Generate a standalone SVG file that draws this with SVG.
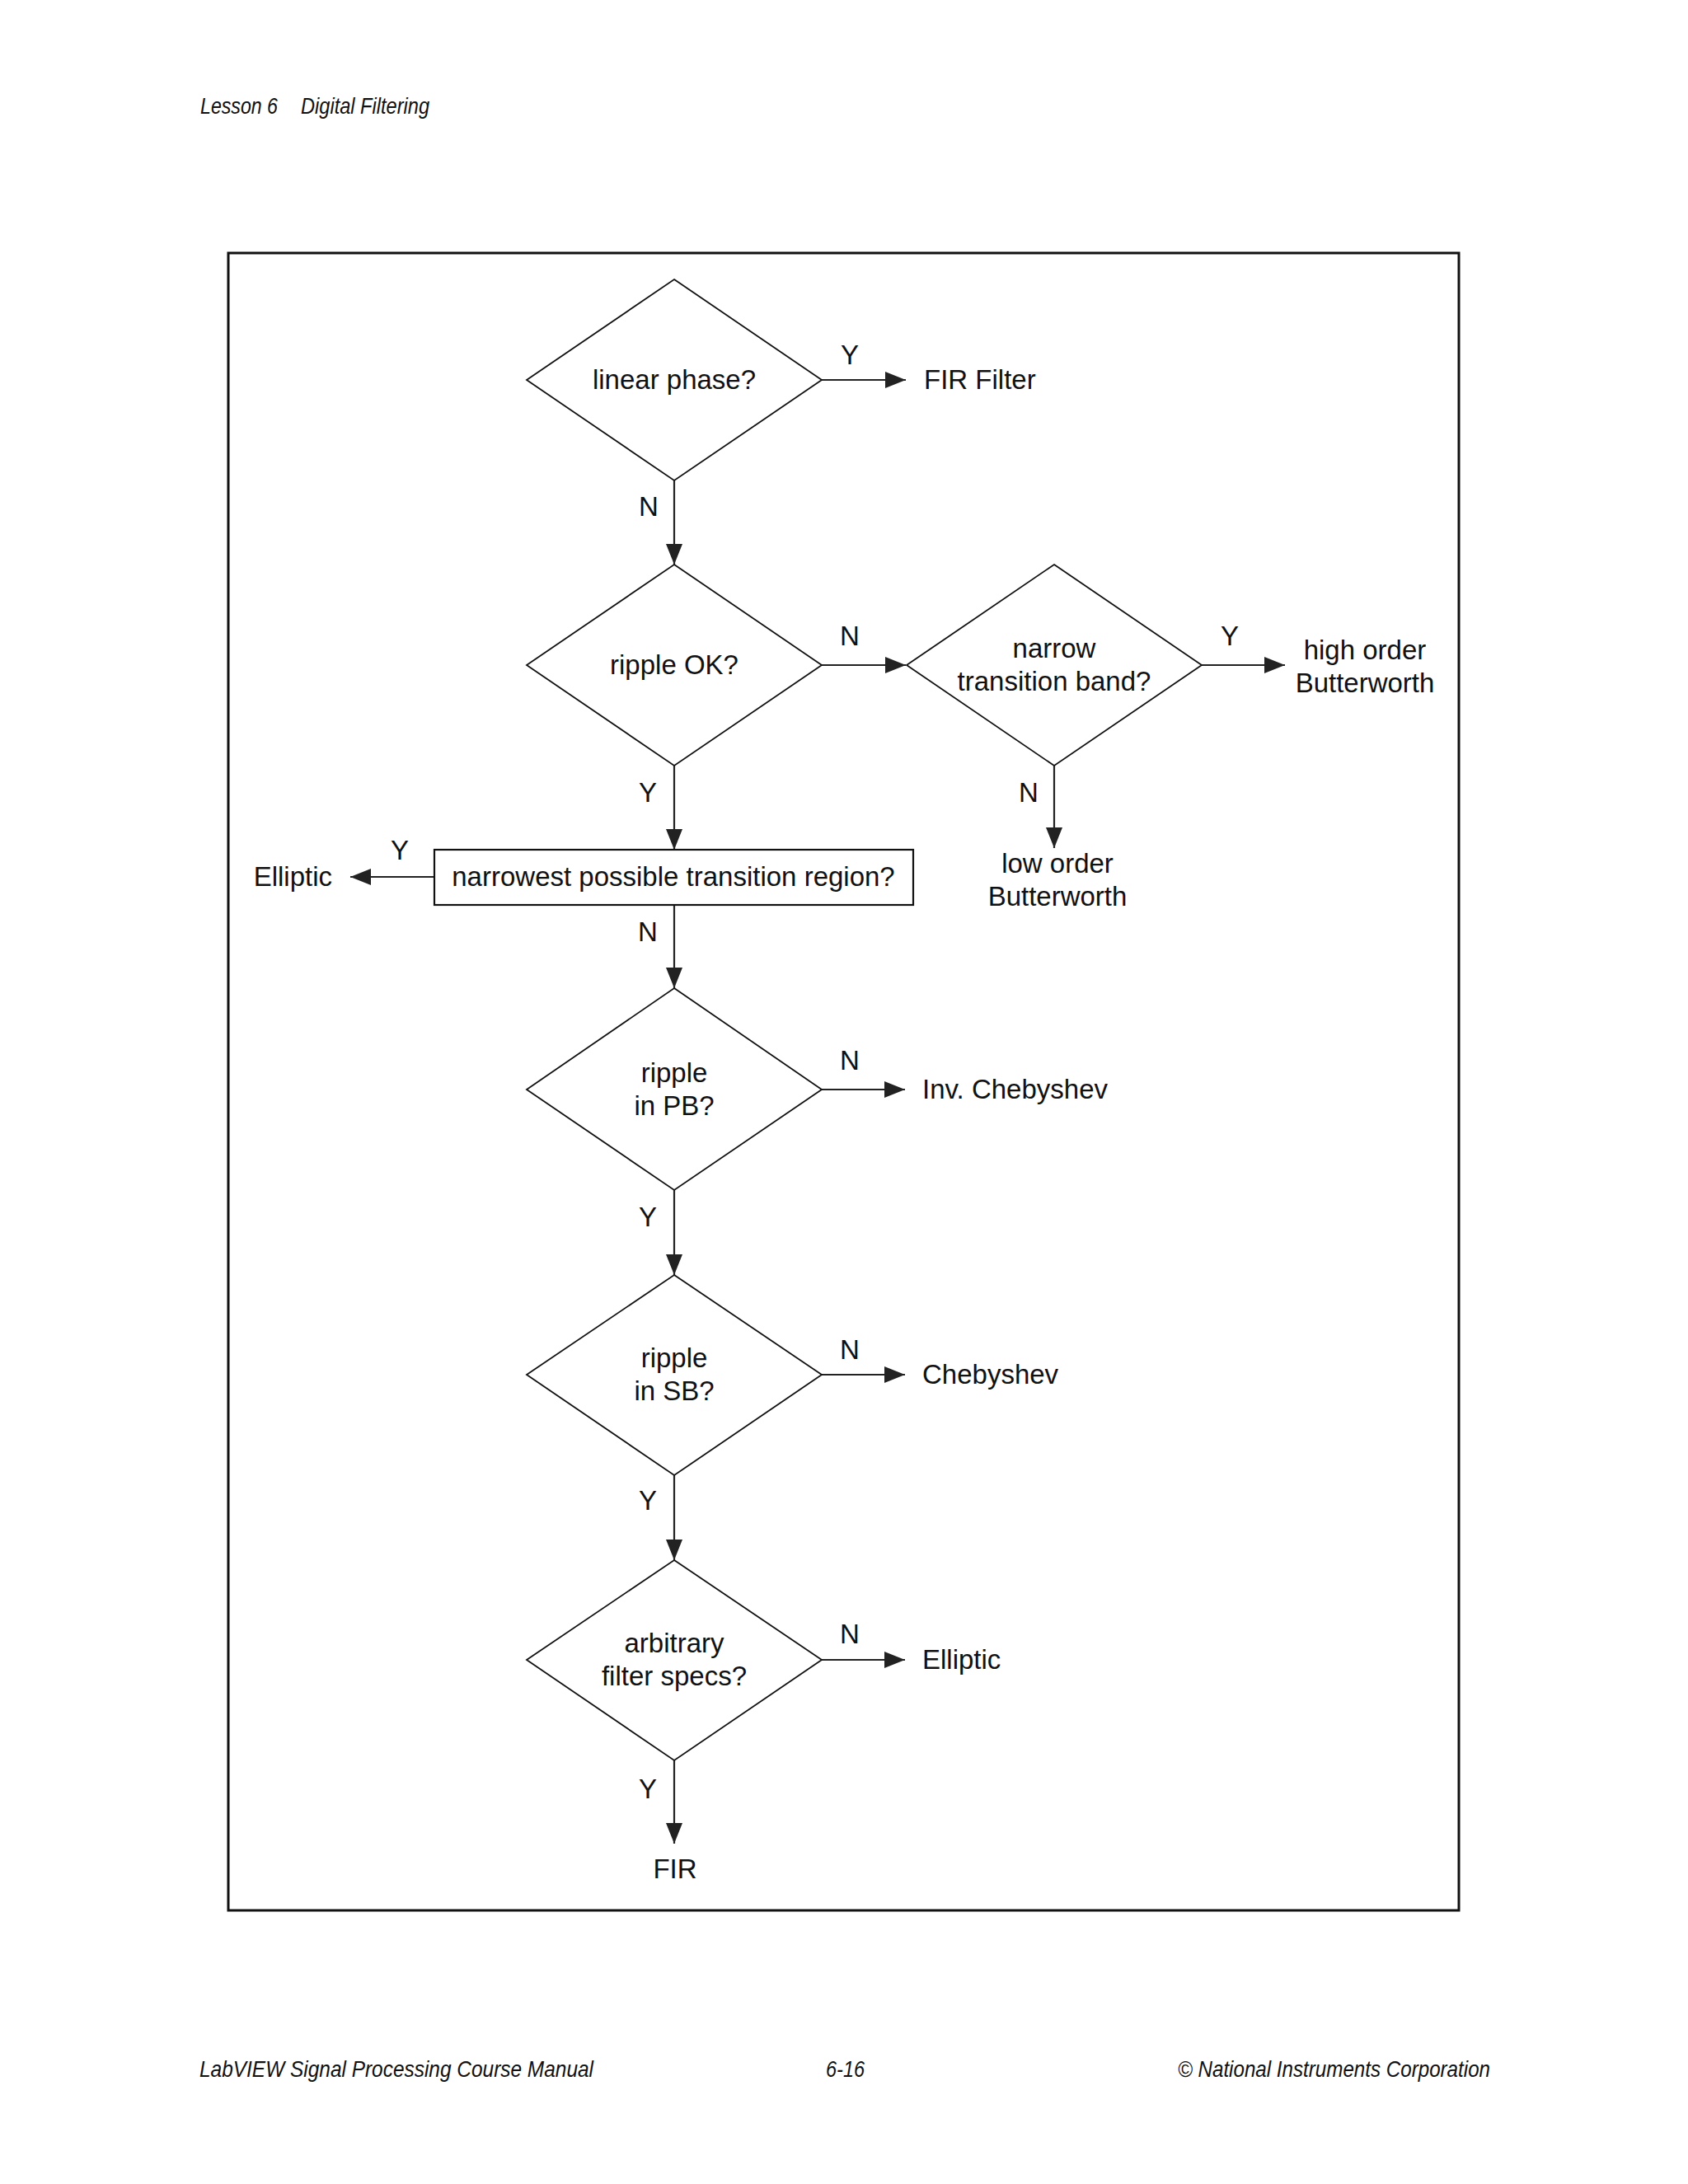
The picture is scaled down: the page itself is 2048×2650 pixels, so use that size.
<svg xmlns="http://www.w3.org/2000/svg" width="2048" height="2650" viewBox="0 0 2048 2650">
<style>
.t{font-family:"Liberation Sans",Arial,sans-serif;font-size:33px;fill:#111}
.c{text-anchor:middle}
.e{text-anchor:end}
.hdr{font-family:"Liberation Sans",Arial,sans-serif;font-size:28px;font-style:italic;fill:#111}
.shape{fill:#fff;stroke:#111;stroke-width:1.8}
.box{fill:#fff;stroke:#111;stroke-width:2.2}
.conn line{stroke:#222;stroke-width:2.2}
.frame{fill:none;stroke:#111;stroke-width:3}
</style>
<defs>
<marker id="ah" markerUnits="userSpaceOnUse" markerWidth="26" markerHeight="20" refX="25" refY="10" orient="auto">
<path d="M0,0 L25,10 L0,20 Z" fill="#222"/>
</marker>
</defs>
<rect width="2048" height="2650" fill="#fff"/>
<g id="header">
<text class="hdr" x="243" y="138" textLength="94" lengthAdjust="spacingAndGlyphs">Lesson 6</text>
<text class="hdr" x="365" y="138" textLength="156" lengthAdjust="spacingAndGlyphs">Digital Filtering</text>
</g>
<rect class="frame" x="277" y="307" width="1493" height="2011"/>
<g id="connectors" class="conn">
<line x1="997" y1="461" x2="1099" y2="461" marker-end="url(#ah)"/>
<line x1="818" y1="583" x2="818" y2="685" marker-end="url(#ah)"/>
<line x1="997" y1="807" x2="1099" y2="807" marker-end="url(#ah)"/>
<line x1="1458" y1="807" x2="1559" y2="807" marker-end="url(#ah)"/>
<line x1="1279" y1="929" x2="1279" y2="1029" marker-end="url(#ah)"/>
<line x1="818" y1="929" x2="818" y2="1031" marker-end="url(#ah)"/>
<line x1="527" y1="1064" x2="425" y2="1064" marker-end="url(#ah)"/>
<line x1="818" y1="1098" x2="818" y2="1199" marker-end="url(#ah)"/>
<line x1="997" y1="1322" x2="1098" y2="1322" marker-end="url(#ah)"/>
<line x1="818" y1="1444" x2="818" y2="1547" marker-end="url(#ah)"/>
<line x1="997" y1="1668" x2="1098" y2="1668" marker-end="url(#ah)"/>
<line x1="818" y1="1790" x2="818" y2="1893" marker-end="url(#ah)"/>
<line x1="997" y1="2014" x2="1098" y2="2014" marker-end="url(#ah)"/>
<line x1="818" y1="2136" x2="818" y2="2237" marker-end="url(#ah)"/>
</g>
<g id="connector-labels" class="t">
<text class="c" x="1031" y="442">Y</text>
<text class="c" x="787" y="626">N</text>
<text class="c" x="1031" y="783">N</text>
<text class="c" x="1492" y="783">Y</text>
<text class="c" x="1248" y="973">N</text>
<text class="c" x="786" y="973">Y</text>
<text class="c" x="485" y="1043">Y</text>
<text class="c" x="786" y="1142">N</text>
<text class="c" x="1031" y="1298">N</text>
<text class="c" x="786" y="1488">Y</text>
<text class="c" x="1031" y="1649">N</text>
<text class="c" x="786" y="1832">Y</text>
<text class="c" x="1031" y="1994">N</text>
<text class="c" x="786" y="2182">Y</text>
</g>
<g id="d1">
<polygon class="shape" points="818,339 997,461 818,583 639,461"/>
<text class="t c" x="818" y="472">linear phase?</text>
</g>
<g id="fir-filter"><text class="t" x="1121" y="472">FIR Filter</text></g>
<g id="d2">
<polygon class="shape" points="818,685 997,807 818,929 639,807"/>
<text class="t c" x="818" y="818">ripple OK?</text>
</g>
<g id="d3">
<polygon class="shape" points="1279,685 1458,807 1279,929 1100,807"/>
<text class="t c" x="1279" y="798">narrow</text>
<text class="t c" x="1279" y="838">transition band?</text>
</g>
<g id="high-order"><text class="t c" x="1656" y="800">high order</text><text class="t c" x="1656" y="840">Butterworth</text></g>
<g id="low-order"><text class="t c" x="1283" y="1059">low order</text><text class="t c" x="1283" y="1099">Butterworth</text></g>
<g id="r1">
<rect class="box" x="527" y="1031" width="581" height="67"/>
<text class="t c" x="817" y="1075">narrowest possible transition region?</text>
</g>
<g id="elliptic1"><text class="t e" x="403" y="1075">Elliptic</text></g>
<g id="d4">
<polygon class="shape" points="818,1199 997,1322 818,1444 639,1322"/>
<text class="t c" x="818" y="1313">ripple</text>
<text class="t c" x="818" y="1353">in PB?</text>
</g>
<g id="inv-cheb"><text class="t" x="1119" y="1333">Inv. Chebyshev</text></g>
<g id="d5">
<polygon class="shape" points="818,1547 997,1668 818,1790 639,1668"/>
<text class="t c" x="818" y="1659">ripple</text>
<text class="t c" x="818" y="1699">in SB?</text>
</g>
<g id="cheb"><text class="t" x="1119" y="1679">Chebyshev</text></g>
<g id="d6">
<polygon class="shape" points="818,1893 997,2014 818,2136 639,2014"/>
<text class="t c" x="818" y="2005">arbitrary</text>
<text class="t c" x="818" y="2045">filter specs?</text>
</g>
<g id="elliptic2"><text class="t" x="1119" y="2025">Elliptic</text></g>
<g id="fir"><text class="t c" x="819" y="2279">FIR</text></g>
<g id="footer">
<text class="hdr" x="242" y="2520" textLength="478" lengthAdjust="spacingAndGlyphs">LabVIEW Signal Processing Course Manual</text>
<text class="hdr" x="1002" y="2520" textLength="47" lengthAdjust="spacingAndGlyphs">6-16</text>
<text class="hdr" x="1429" y="2520" textLength="379" lengthAdjust="spacingAndGlyphs">© National Instruments Corporation</text>
</g>
</svg>
